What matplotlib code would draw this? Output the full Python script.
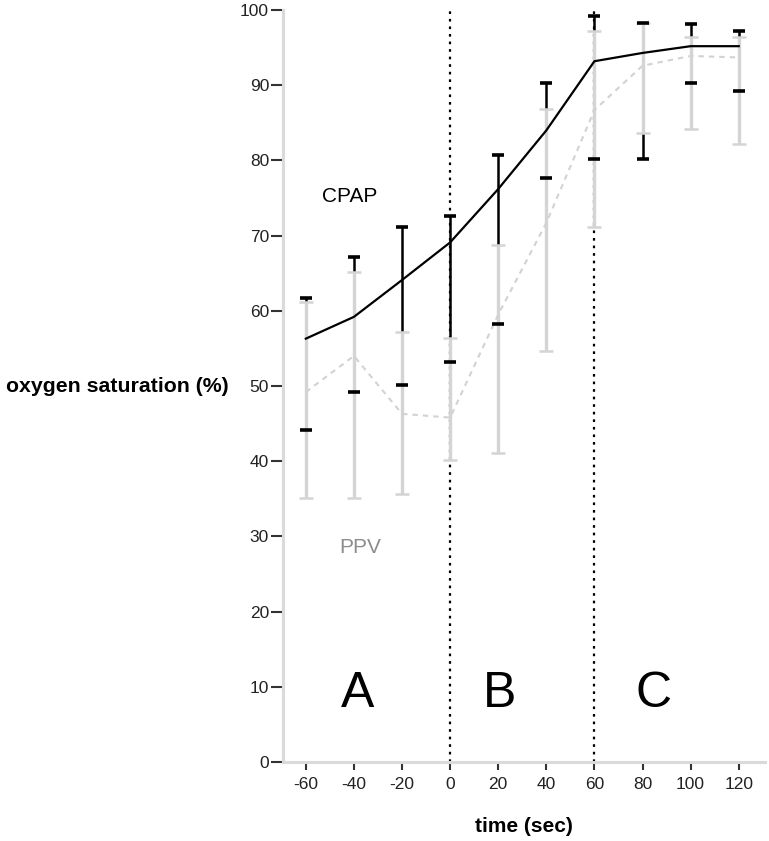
import matplotlib
matplotlib.use('Agg')
import matplotlib.pyplot as plt

plt.rcParams['font.family'] = ['Liberation Sans', 'DejaVu Sans']
plt.rcParams['axes.unicode_minus'] = False

# time points (sec)
time = [-60, -40, -20, 0, 20, 40, 60, 80, 100, 120]

# CPAP: mean and bar ends
cpap_mean = [56.3, 59.2, 64.1, 69.1, 76.2, 84.0, 93.2, 94.3, 95.2, 95.2]
cpap_upper = [61.7, 67.2, 71.1, 72.6, 80.7, 90.3, 99.2, 98.3, 98.2, 97.2]
cpap_lower = [44.1, 49.2, 50.1, 53.2, 58.2, 77.7, 80.2, 80.2, 90.3, 89.2]

# PPV: mean and bar ends
ppv_mean = [49.2, 54.0, 46.3, 45.8, 59.5, 71.7, 86.7, 92.6, 93.9, 93.7]
ppv_upper = [61.2, 65.2, 57.2, 56.4, 68.7, 86.8, 97.2, 98.3, 96.4, 96.4]
ppv_lower = [35.1, 35.1, 35.7, 40.2, 41.1, 54.7, 71.1, 83.7, 84.2, 82.2]

phase_lines = [0, 60]
phase_labels = ['A', 'B', 'C']
phase_x = [-38.5, 20.5, 84.5]

light = '#d4d4d4'

fig = plt.figure(figsize=(7.69, 8.41), dpi=100)
ax = fig.add_axes([0.368, 0.094, 0.627, 0.894])

# phase separators
for xl in phase_lines:
    ax.axvline(xl, color='black', linestyle=(0, (1.2, 2.2)), linewidth=1.6, zorder=1)

# CPAP error bars
c_err = [[m - lo for m, lo in zip(cpap_mean, cpap_lower)],
         [hi - m for m, hi in zip(cpap_mean, cpap_upper)]]
eb_c = ax.errorbar(time, cpap_mean, yerr=c_err, fmt='none', ecolor='black',
                   elinewidth=1.8, capsize=4, capthick=2.6, zorder=2)
for cap in eb_c[1]:
    cap.set_zorder(5)

# PPV error bars
p_err = [[m - lo for m, lo in zip(ppv_mean, ppv_lower)],
         [hi - m for m, hi in zip(ppv_mean, ppv_upper)]]
eb_p = ax.errorbar(time, ppv_mean, yerr=p_err, fmt='none', ecolor=light,
                   elinewidth=2.4, capsize=5, capthick=1.8, zorder=3)

# mean lines
ax.plot(time, ppv_mean, color='#d2d2d2', linestyle=(0, (2.6, 2.4)), linewidth=1.5, zorder=4)
ax.plot(time, cpap_mean, color='black', linewidth=1.6, zorder=6)

ax.text(-41.7, 75.2, 'CPAP', fontsize=15, ha='center', va='center', color='black')
ax.text(-37.5, 28.5, 'PPV', fontsize=15, ha='center', va='center', color='#8c8c8c')
for lab, xp in zip(phase_labels, phase_x):
    ax.text(xp, 9.0, lab, fontsize=36, ha='center', va='center', color='black')

ax.set_xlim(-69.5, 131)
ax.set_ylim(0, 100)
ax.set_xticks(time)
ax.set_yticks(range(0, 101, 10))

for side in ['top', 'right']:
    ax.spines[side].set_visible(False)
for side in ['left', 'bottom']:
    ax.spines[side].set_color('#dadada')
    ax.spines[side].set_linewidth(2.2)

ax.tick_params(axis='y', direction='out', length=9, width=1.5, color='#333333',
               labelsize=12.5, pad=1, labelcolor='#222222')
ax.tick_params(axis='x', direction='out', length=6, width=1.5, color='#333333',
               labelsize=12.5, pad=5, labelcolor='#222222')

ax.set_xlabel('time (sec)', fontsize=15, fontweight='bold', labelpad=18)
ax.set_ylabel('oxygen saturation (%)', fontsize=15.3, fontweight='bold',
              rotation=0, ha='right', va='center')
ax.yaxis.set_label_coords(-0.113, 0.5)

fig.savefig('out.png', dpi=100, facecolor='white')
